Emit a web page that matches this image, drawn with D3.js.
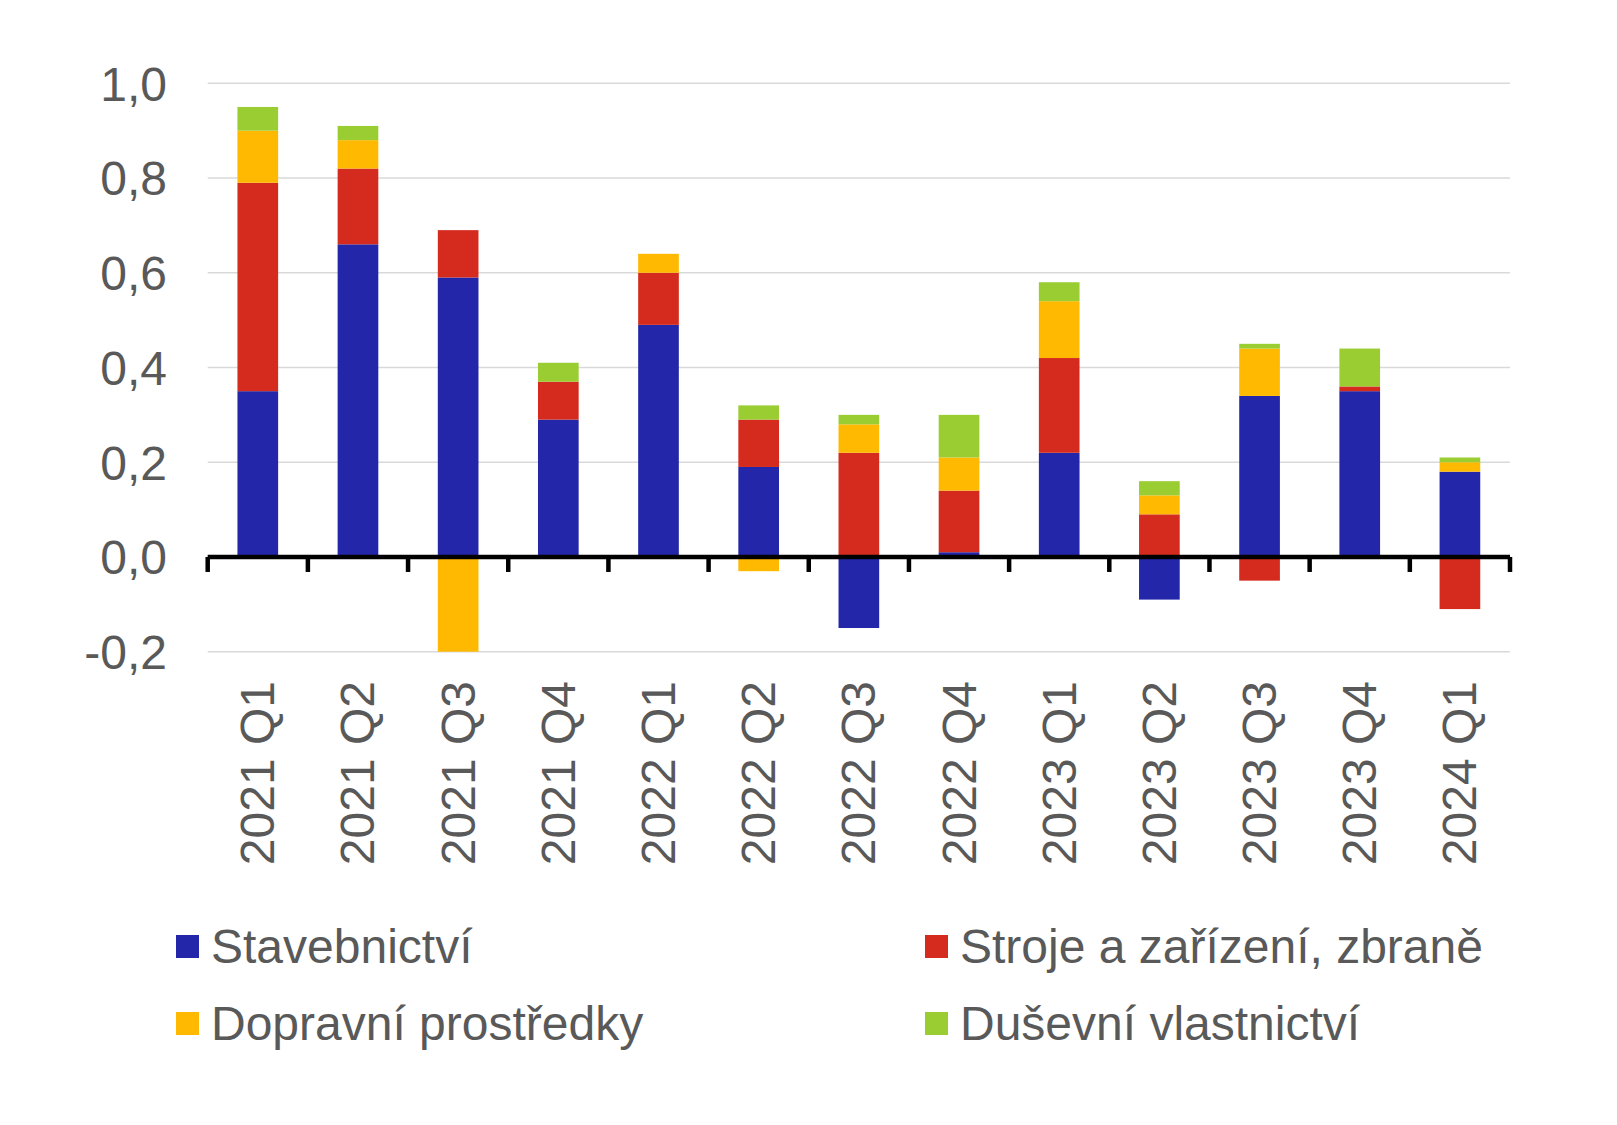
<!DOCTYPE html>
<html>
<head>
<meta charset="utf-8">
<script src="https://cdn.jsdelivr.net/npm/d3@7"></script>
<style>
  html, body { margin: 0; padding: 0; background: #fff; }
  svg { display: block; }
  text { font-family: "Liberation Sans", Arial, sans-serif; fill: #595959; }
</style>
</head>
<body>
<svg id="chart" width="1617" height="1125"></svg>
<script>
const categories = ["2021 Q1","2021 Q2","2021 Q3","2021 Q4","2022 Q1","2022 Q2","2022 Q3","2022 Q4","2023 Q1","2023 Q2","2023 Q3","2023 Q4","2024 Q1"];
const seriesNames = ["Stavebnictví","Stroje a zařízení, zbraně","Dopravní prostředky","Duševní vlastnictví"];
const stavebnictvi = [0.35, 0.66, 0.59, 0.29, 0.49, 0.19, -0.15, 0.01, 0.22, -0.09, 0.34, 0.35, 0.18];
const stroje       = [0.44, 0.16, 0.10, 0.08, 0.11, 0.10, 0.22, 0.13, 0.20, 0.09, -0.05, 0.01, -0.11];
const dopravni     = [0.11, 0.06, -0.20, 0.00, 0.04, -0.03, 0.06, 0.07, 0.12, 0.04, 0.10, 0.00, 0.02];
const dusevni      = [0.05, 0.03, 0.00, 0.04, 0.00, 0.03, 0.02, 0.09, 0.04, 0.03, 0.01, 0.08, 0.01];
const colors = ["#2326a8", "#d52b1e", "#ffb900", "#9acd32"];
const yTicks = [-0.2, 0, 0.2, 0.4, 0.6, 0.8, 1.0];

const seriesValues = [stavebnictvi, stroje, dopravni, dusevni];
const table = categories.map((c, i) => {
  const row = { cat: c };
  seriesNames.forEach((s, j) => row[s] = seriesValues[j][i]);
  return row;
});

const svg = d3.select("#chart");
const x0 = 207.7, x1 = 1510;
const x = d3.scaleBand().domain(categories).range([x0, x1]).paddingInner(0.594).paddingOuter(0.297);
const y = d3.scaleLinear().domain([-0.2, 1.0]).range([651.7, 83.3]);

// gridlines
svg.append("g").selectAll("line").data(yTicks.filter(t => t !== 0)).join("line")
  .attr("x1", x0).attr("x2", x1)
  .attr("y1", d => y(d)).attr("y2", d => y(d))
  .attr("stroke", "#d9d9d9").attr("stroke-width", 1.5);

// y labels
const fmt = d => d3.format(".1f")(d).replace(".", ",").replace("−", "-");
svg.append("g").selectAll("text").data(yTicks).join("text")
  .attr("x", 167).attr("y", d => y(d))
  .attr("dy", "0.36em")
  .attr("text-anchor", "end")
  .attr("font-size", 48)
  .text(fmt);

// bars
const stack = d3.stack().keys(seriesNames).offset(d3.stackOffsetDiverging);
const stacked = stack(table);
svg.append("g").selectAll("g").data(stacked).join("g")
  .attr("fill", (d, i) => colors[i])
  .selectAll("rect").data(d => d).join("rect")
  .attr("x", d => x(d.data.cat))
  .attr("width", x.bandwidth())
  .attr("y", d => y(Math.max(d[0], d[1])))
  .attr("height", d => Math.abs(y(d[0]) - y(d[1])));

// x axis line and ticks
const axisG = svg.append("g");
axisG.append("line").attr("x1", x0).attr("x2", x1)
  .attr("y1", y(0)).attr("y2", y(0))
  .attr("stroke", "#000").attr("stroke-width", 4.5);
const step = x.step();
const tickPos = d3.range(categories.length + 1).map(i => x0 + i * step);
axisG.selectAll("line.tick").data(tickPos).join("line")
  .attr("class", "tick")
  .attr("x1", d => d).attr("x2", d => d)
  .attr("y1", y(0)).attr("y2", y(0) + 15)
  .attr("stroke", "#000").attr("stroke-width", 4.5);

// x labels
svg.append("g").selectAll("text").data(categories).join("text")
  .attr("transform", d => `translate(${x(d) + x.bandwidth() / 2 + 16.5},681) rotate(-90)`)
  .attr("text-anchor", "end")
  .attr("font-size", 48)
  .text(d => d);

// legend
const legendPos = [
  { sx: 176, tx: 211, y: 935 },
  { sx: 925, tx: 960, y: 935 },
  { sx: 176, tx: 211, y: 1012 },
  { sx: 925, tx: 960, y: 1012 }
];
const leg = svg.append("g").selectAll("g").data(seriesNames).join("g");
leg.append("rect")
  .attr("x", (d, i) => legendPos[i].sx).attr("y", (d, i) => legendPos[i].y)
  .attr("width", 23).attr("height", 23)
  .attr("fill", (d, i) => colors[i]);
leg.append("text")
  .attr("x", (d, i) => legendPos[i].tx).attr("y", (d, i) => legendPos[i].y + 28)
  .attr("font-size", 48)
  .text(d => d);
</script>
</body>
</html>
